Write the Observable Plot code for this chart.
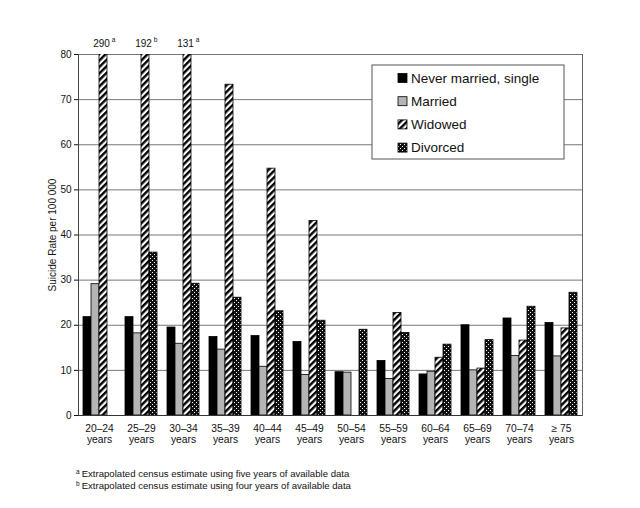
<!DOCTYPE html>
<html><head><meta charset="utf-8">
<script src="https://cdn.jsdelivr.net/npm/d3@7"></script>
<script src="https://cdn.jsdelivr.net/npm/@observablehq/plot@0.6"></script>
<style>
body{margin:0;background:#fff;font-family:"Liberation Sans",Arial,sans-serif}
#chart svg{display:block}
.foot{font-size:9.6px;line-height:12px;margin:18px 0 0 76px;color:#111}
.foot sup{font-size:6.5px;vertical-align:3px;line-height:0;margin-right:2px}
</style></head>
<body>
<div id="chart"></div>
<div class="foot">
<div><sup>a</sup>Extrapolated census estimate using five years of available data</div>
<div><sup>b</sup>Extrapolated census estimate using four years of available data</div>
</div>
<script>
const ages = ["20–24","25–29","30–34","35–39","40–44","45–49","50–54","55–59","60–64","65–69","70–74","≥ 75"];
const ageSuffix = "years";
const statuses = ["Never married, single","Married","Widowed","Divorced"];
const neverMarried = [21.8,21.8,19.5,17.4,17.6,16.3,9.6,12.1,9.1,20.0,21.5,20.5];
const married      = [29.1,18.2,15.9,14.6,10.8,9.0,9.5,8.1,9.7,10.0,13.2,13.1];
const widowed      = [290,192,131,73.3,54.7,43.1,null,22.7,12.8,10.4,16.6,19.3];
const divorced     = [null,36.1,29.2,26.1,23.1,21.0,19.0,18.3,15.7,16.7,24.1,27.2];
const widowedNotes = ["a","b","a",null,null,null,null,null,null,null,null,null];
const yTicks = [0,10,20,30,40,50,60,70,80];
const yLabel = "Suicide Rate per 100 000";
const fills = {"Never married, single":"#000000","Married":"#b4b4b4","Widowed":"url(#hatch)","Divorced":"url(#dots)"};

const series = [neverMarried, married, widowed, divorced];
const rows = [];
ages.forEach((a,i)=>{
  series.forEach((arr,j)=>{
    if (arr[i] != null) rows.push({age:a, status:statuses[j], value:arr[i], note: j===2 ? widowedNotes[i] : null});
  });
});
const noted = rows.filter(d=>d.note);

const svg = Plot.plot({
  width:640, height:450,
  marginTop:54, marginBottom:35, marginLeft:76, marginRight:57,
  style:{fontFamily:"'Liberation Sans', Arial, sans-serif", fontSize:"10px", color:"#111", background:"#fff"},
  fx:{domain:ages, padding:0, label:null, axis:null},
  x:{domain:statuses, paddingInner:0, paddingOuter:0.56, axis:null},
  y:{domain:[0,80]},
  color:{type:"identity"},
  marks:[
    Plot.gridY(yTicks, {stroke:"#777", strokeOpacity:1}),
    Plot.frame({anchor:"left", facetAnchor:"left", stroke:"#444"}),
    Plot.frame({anchor:"right", facetAnchor:"right", stroke:"#666"}),
    Plot.barY(rows, {fx:"age", x:"status", y:"value", fill:d=>fills[d.status], stroke:"#000", strokeWidth:0.8, clip:true}),
    Plot.ruleY([0], {stroke:"#333", strokeWidth:1}),
    Plot.axisY({ticks:yTicks, tickSize:4, tickPadding:3, fontSize:10, label:yLabel, labelAnchor:"center", labelArrow:"none", labelOffset:30}),
    Plot.axisFx({anchor:"bottom", tickFormat:d=>d+"\n"+ageSuffix, tickSize:0, tickPadding:9, fontSize:10.3, lineHeight:1.05, label:null}),
    Plot.text(noted, {fx:"age", x:"status", y:80, text:d=>String(d.value), dy:-11, dx:-2, fontSize:10}),
    Plot.text(noted, {fx:"age", x:"status", y:80, text:"note", dy:-15, dx:10, fontSize:6.5})
  ]
});

const s = d3.select(svg);
const defs = s.insert("defs", ":first-child");
const h = defs.append("pattern").attr("id","hatch").attr("patternUnits","userSpaceOnUse")
  .attr("width",4.6).attr("height",4.6).attr("patternTransform","rotate(45)");
h.append("rect").attr("width",4.6).attr("height",4.6).attr("fill","#fff");
h.append("rect").attr("width",2.4).attr("height",4.6).attr("fill","#000");
const p = defs.append("pattern").attr("id","dots").attr("patternUnits","userSpaceOnUse")
  .attr("width",4).attr("height",4);
p.append("rect").attr("width",4).attr("height",4).attr("fill","#111");
p.append("rect").attr("width",1).attr("height",1).attr("fill","#fff");
p.append("rect").attr("x",2).attr("y",2).attr("width",1).attr("height",1).attr("fill","#fff");

// legend
const lg = s.append("g").attr("font-family","'Liberation Sans', Arial, sans-serif").attr("text-anchor","start");
lg.append("rect").attr("x",372).attr("y",65).attr("width",192).attr("height",94)
  .attr("fill","#fff").attr("stroke","#555").attr("stroke-width",1);
statuses.forEach((st,i)=>{
  const cy = 78 + i*23.2;
  lg.append("rect").attr("x",398).attr("y",cy-4.5).attr("width",9).attr("height",9)
    .attr("fill",fills[st]).attr("stroke","#000").attr("stroke-width",0.8);
  lg.append("text").attr("x",411).attr("y",cy).attr("dy","0.35em").attr("font-size",13.5)
    .attr("fill","#111").text(st);
});

document.getElementById("chart").appendChild(svg);
</script>
</body></html>
